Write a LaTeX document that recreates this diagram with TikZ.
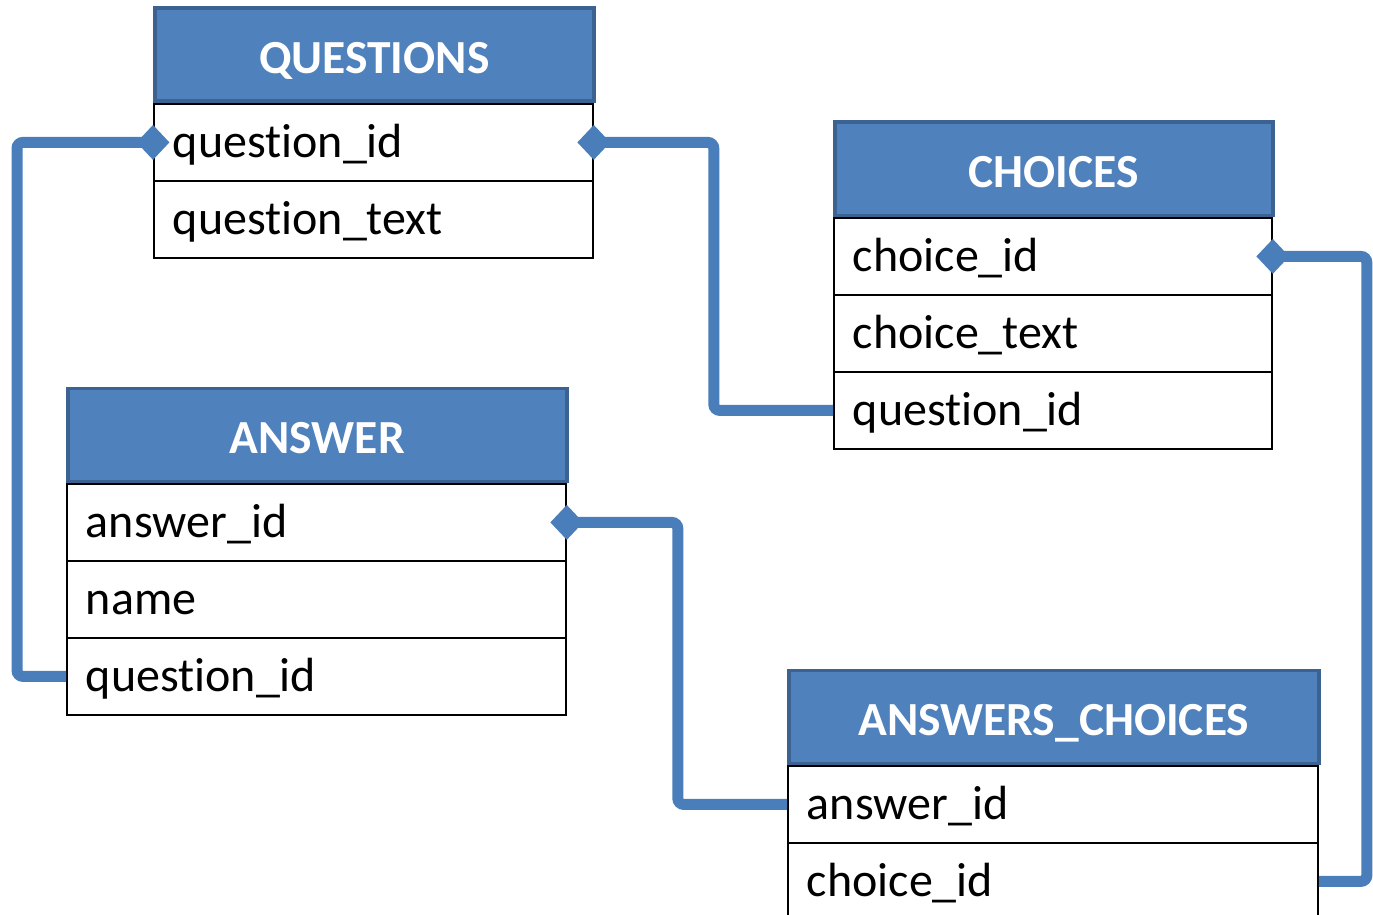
\documentclass[tikz,border=0pt]{standalone}
\usepackage{fontspec}
\setmainfont{Carlito}[Ligatures={NoCommon}]
\usetikzlibrary{shapes.geometric}
\definecolor{hdrfill}{HTML}{4F81BD}
\definecolor{hdrborder}{HTML}{3B6291}
\definecolor{connblue}{HTML}{4A7EBB}
\newcommand{\qword}{quest\kern0pt ion}
\tikzset{
  hdr/.style={draw=hdrborder, line width=3.5pt, fill=hdrfill, text=white,
    font=\bfseries\fontsize{47.5}{50}\selectfont, minimum width=#1, minimum height=93pt,
    text height=37pt, text depth=0pt, inner sep=0pt, anchor=south west},
  row/.style={draw=black, line width=1.8pt, fill=white, minimum height=77pt,
    text width=#1-38pt, align=left, text height=31pt, text depth=0pt,
    inner xsep=19pt, inner ysep=0pt, anchor=north west,
    font=\fontsize{48}{50}\selectfont},
  conn/.style={draw=connblue, line width=11pt, rounded corners=6pt},
  dia/.style={diamond, fill=connblue, draw=none, minimum width=33pt, minimum height=35pt, inner sep=0pt}
}
\begin{document}
\begin{tikzpicture}[x=1pt,y=-1pt]
\useasboundingbox (0,0) rectangle (1373,915);

% QUESTIONS
\node[row=439pt] (qid) at (153,103) {\qword\_id};
\node[row=439pt] (qtext) at (153,180) {\qword\_text};
\node[hdr=439pt] (qhdr) at (153,103) {QUESTIONS};

% CHOICES
\node[row=438pt] (cid) at (833,217) {choice\_id};
\node[row=438pt] (ctext) at (833,294) {choice\_text};
\node[row=438pt] (cqid) at (833,371) {\qword\_id};
\node[hdr=438pt] (chdr) at (833,217) {CHOICES};

% ANSWER
\node[row=499pt] (aid) at (66,483) {answer\_id};
\node[row=499pt] (aname) at (66,560) {name};
\node[row=499pt] (aqid) at (66,637) {\qword\_id};
\node[hdr=499pt] (ahdr) at (66,483) {ANSWER};

% ANSWERS_CHOICES
\node[row=530pt] (acaid) at (787,765) {answer\_id};
\node[row=530pt] (accid) at (787,842) {choice\_id};
\node[hdr=530pt] (achdr) at (787,765) {ANSWERS\_CHOICES};

% connectors
\draw[conn] (qid.west) -- ([xshift=-136pt]qid.west) |- (aqid.west);
\draw[conn] (qid.east) -- ([xshift=120pt]qid.east) |- (cqid.west);
\draw[conn] (cid.east) -- ([xshift=94pt]cid.east) |- (accid.east);
\draw[conn] (aid.east) -- ([xshift=111pt]aid.east) |- (acaid.west);

% diamonds
\node[dia] (d1) at (qid.west) {};
\node[dia] (d2) at (qid.east) {};
\node[dia] (d3) at (cid.east) {};
\node[dia] (d4) at (aid.east) {};
\end{tikzpicture}
\end{document}
